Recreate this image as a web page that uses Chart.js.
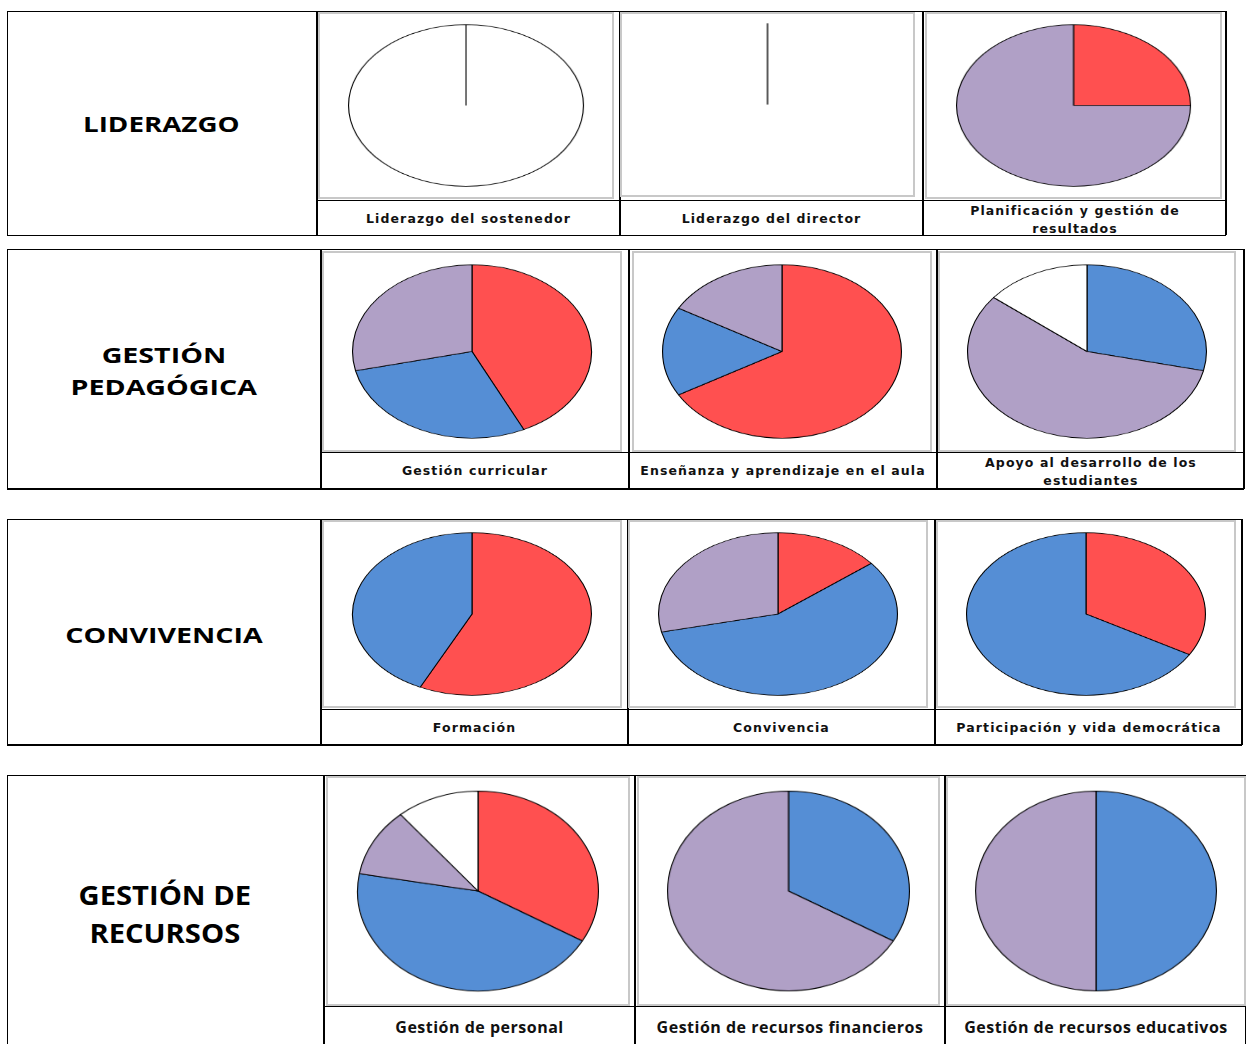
<!DOCTYPE html>
<html lang="es">
<head>
<meta charset="utf-8">
<title>Dimensiones de gestión</title>
<script src="https://cdn.jsdelivr.net/npm/chart.js@4.4.1/dist/chart.umd.min.js"></script>
<style>
  html, body { margin: 0; padding: 0; background: #fff; }
  body { width: 1246px; height: 1044px; position: relative; overflow: hidden; }
  .linea { position: absolute; background: #000; }
  .marco { position: absolute; border: 2px solid #c8c8c8; box-sizing: border-box; background: #fff; }
  .titulo { position: absolute; font-family: "Open Sans", sans-serif; font-weight: 700; color: #000;
            text-align: center; line-height: 32px; }
  .titulo span { display: inline-block; transform-origin: 50% 50%; }
  .leyenda { position: absolute; font-family: "DejaVu Sans", sans-serif; font-weight: 700; color: #111;
             font-size: 12.5px; letter-spacing: 1.1px; text-align: center; line-height: 18px;
             overflow: hidden; white-space: pre-line; }
  .leyenda.grande { font-family: "Open Sans", sans-serif; font-size: 16px; letter-spacing: 0.5px; }
  canvas { position: absolute; }
</style>
</head>
<body>
<script>
// categorías de cada gráfico (rojo, azul, lila, blanco)
const categorias = ['Categoría 1', 'Categoría 2', 'Categoría 3', 'Sin dato'];
const colores = ['#FF5050', '#558ED5', '#B0A0C6', '#FFFFFF'];

const liderazgoSostenedor = [0, 0, 0, 1];
const liderazgoDirector = [0, 0, 0, 1];
const planificacionResultados = [1, 0, 3, 0];
const gestionCurricular = [3, 2, 2, 0];
const ensenanzaAula = [4, 1, 1, 0];
const apoyoEstudiantes = [0, 2, 4, 1];
const formacion = [4, 3, 0, 0];
const convivencia = [1, 4, 2, 0];
const participacion = [1, 2, 0, 0];
const gestionPersonal = [3, 4, 1, 1];
const recursosFinancieros = [0, 1, 2, 0];
const recursosEducativos = [0, 1, 1, 0];

const dimensiones = ['LIDERAZGO', 'GESTIÓN\nPEDAGÓGICA', 'CONVIVENCIA', 'GESTIÓN DE\nRECURSOS'];
const subdimensiones = [
    ['Liderazgo del sostenedor', 'Liderazgo del director', 'Planificación y gestión de\nresultados'],
    ['Gestión curricular', 'Enseñanza y aprendizaje en el aula', 'Apoyo al desarrollo de los\nestudiantes'],
    ['Formación', 'Convivencia', 'Participación y vida democrática'],
    ['Gestión de personal', 'Gestión de recursos financieros', 'Gestión de recursos educativos']
];
const valores = [
    [liderazgoSostenedor, liderazgoDirector, planificacionResultados],
    [gestionCurricular, ensenanzaAula, apoyoEstudiantes],
    [formacion, convivencia, participacion],
    [gestionPersonal, recursosFinancieros, recursosEducativos]
];

// geometría de cada fila de la tabla
const filas = [
    { top: 11, bottom: 235, left: 7, right: 1226, bordeInf: 1, etiqueta: 316, cortes: [619, 922], pie: 200,
      tituloY: 124, tituloSize: 21, escala: 1.32, interlinea: 32, rx: 118, ry: 81,
      marcos: [[318, 12, 614, 199], [620, 12, 915, 197], [925, 12, 1222, 199]] },
    { top: 249, bottom: 489, left: 7, right: 1244, bordeInf: 2, etiqueta: 320, cortes: [628, 936], pie: 452,
      tituloY: 354, tituloSize: 22, escala: 1.3, interlinea: 32, rx: 120, ry: 87,
      marcos: [[322, 251, 622, 452], [632, 251, 932, 452], [938, 251, 1236, 452]] },
    { top: 519, bottom: 745, left: 7, right: 1242, bordeInf: 2, etiqueta: 320, cortes: [627, 934], pie: 709,
      tituloY: 634, tituloSize: 22, escala: 1.3, interlinea: 32, rx: 120, ry: 82,
      marcos: [[322, 520, 622, 708], [628, 520, 928, 708], [936, 520, 1236, 708]] },
    { top: 775, bottom: 1060, left: 7, right: 1246, bordeInf: 2, etiqueta: 323, cortes: [634, 944], pie: 1006,
      tituloY: 895, tituloSize: 27, escala: 1.08, interlinea: 38, rx: 121, ry: 100, grande: true,
      marcos: [[326, 776, 630, 1006], [637, 776, 940, 1006], [946, 776, 1246, 1006]] }
];

// dibuja solo el borde radial inicial (gráfico vacío sin contorno)
const bordeRadial = {
    id: 'bordeRadial',
    afterDatasetsDraw(chart, args, opts) {
        if (!opts.activo) return;
        const arco = chart.getDatasetMeta(0).data.find(a => a.circumference > 0);
        if (!arco) return;
        const ctx = chart.ctx;
        ctx.save();
        ctx.strokeStyle = '#000';
        ctx.lineWidth = 1.3;
        ctx.beginPath();
        ctx.moveTo(arco.x, arco.y);
        ctx.lineTo(arco.x + arco.outerRadius * Math.cos(arco.startAngle),
                   arco.y + arco.outerRadius * Math.sin(arco.startAngle));
        ctx.stroke();
        ctx.restore();
    }
};

function linea(x, y, w, h) {
    const d = document.createElement('div');
    d.className = 'linea';
    d.style.cssText = `left:${x}px;top:${y}px;width:${w}px;height:${h}px`;
    document.body.appendChild(d);
}

function dibujarPie(datos, cx, cy, rx, ry, soloBorde) {
    const lado = 244;
    const canvas = document.createElement('canvas');
    canvas.width = lado;
    canvas.height = lado;
    const w = rx * 2 * lado / 240, h = ry * 2 * lado / 240;
    canvas.style.width = w + 'px';
    canvas.style.height = h + 'px';
    canvas.style.left = (cx - w / 2) + 'px';
    canvas.style.top = (cy - h / 2) + 'px';
    document.body.appendChild(canvas);
    new Chart(canvas, {
        type: 'pie',
        data: {
            labels: categorias,
            datasets: [{
                data: datos,
                backgroundColor: colores,
                borderColor: '#000',
                borderWidth: soloBorde ? 0 : 1.1
            }]
        },
        options: {
            responsive: false,
            animation: false,
            layout: { padding: 2 },
            plugins: { legend: { display: false }, tooltip: { enabled: false }, bordeRadial: { activo: soloBorde } }
        },
        plugins: [bordeRadial]
    });
}

filas.forEach((f, i) => {
    const alto = f.bottom - f.top;
    // bordes de la fila
    linea(f.left, f.top, f.right - f.left, 1);
    linea(f.left, f.bottom - f.bordeInf + 1, f.right - f.left, f.bordeInf);
    linea(f.left, f.top, 1, alto);
    linea(f.right - 1, f.top, 2, alto);
    linea(f.etiqueta, f.top, 2, alto);
    f.cortes.forEach(x => linea(x, f.top, 2, alto));
    linea(f.etiqueta, f.pie, f.right - f.etiqueta, 1);

    const t = document.createElement('div');
    t.className = 'titulo';
    t.style.cssText = `left:${f.left}px;width:${f.etiqueta - f.left}px;top:${f.tituloY - f.interlinea / 2}px;` +
        `font-size:${f.tituloSize}px;line-height:${f.interlinea}px;`;
    dimensiones[i].split('\n').forEach((txt, k) => {
        if (k) t.appendChild(document.createElement('br'));
        const s = document.createElement('span');
        s.style.transform = `scaleX(${f.escala})`;
        s.textContent = txt;
        t.appendChild(s);
    });
    document.body.appendChild(t);

    const bordes = [f.etiqueta, ...f.cortes, f.right];
    f.marcos.forEach((m, j) => {
        const marco = document.createElement('div');
        marco.className = 'marco';
        marco.style.cssText = `left:${m[0]}px;top:${m[1]}px;width:${m[2] - m[0]}px;height:${m[3] - m[1]}px`;
        document.body.appendChild(marco);
        dibujarPie(valores[i][j], (m[0] + m[2]) / 2, (m[1] + m[3]) / 2, f.rx, f.ry, i === 0 && j === 1);

        const ley = document.createElement('div');
        ley.className = 'leyenda' + (f.grande ? ' grande' : '');
        const x0 = bordes[j] + 2, x1 = bordes[j + 1];
        const h = Math.min(f.bottom, 1044) - f.pie - 2;
        const dosLineas = subdimensiones[i][j].includes('\n');
        ley.style.cssText = `left:${x0}px;width:${x1 - x0}px;top:${f.pie + 1}px;height:${h}px;` +
            `padding-top:${dosLineas ? 1 : (f.grande ? 11 : 9)}px;box-sizing:border-box;`;
        ley.textContent = subdimensiones[i][j];
        document.body.appendChild(ley);
    });
});
</script>
</body>
</html>
